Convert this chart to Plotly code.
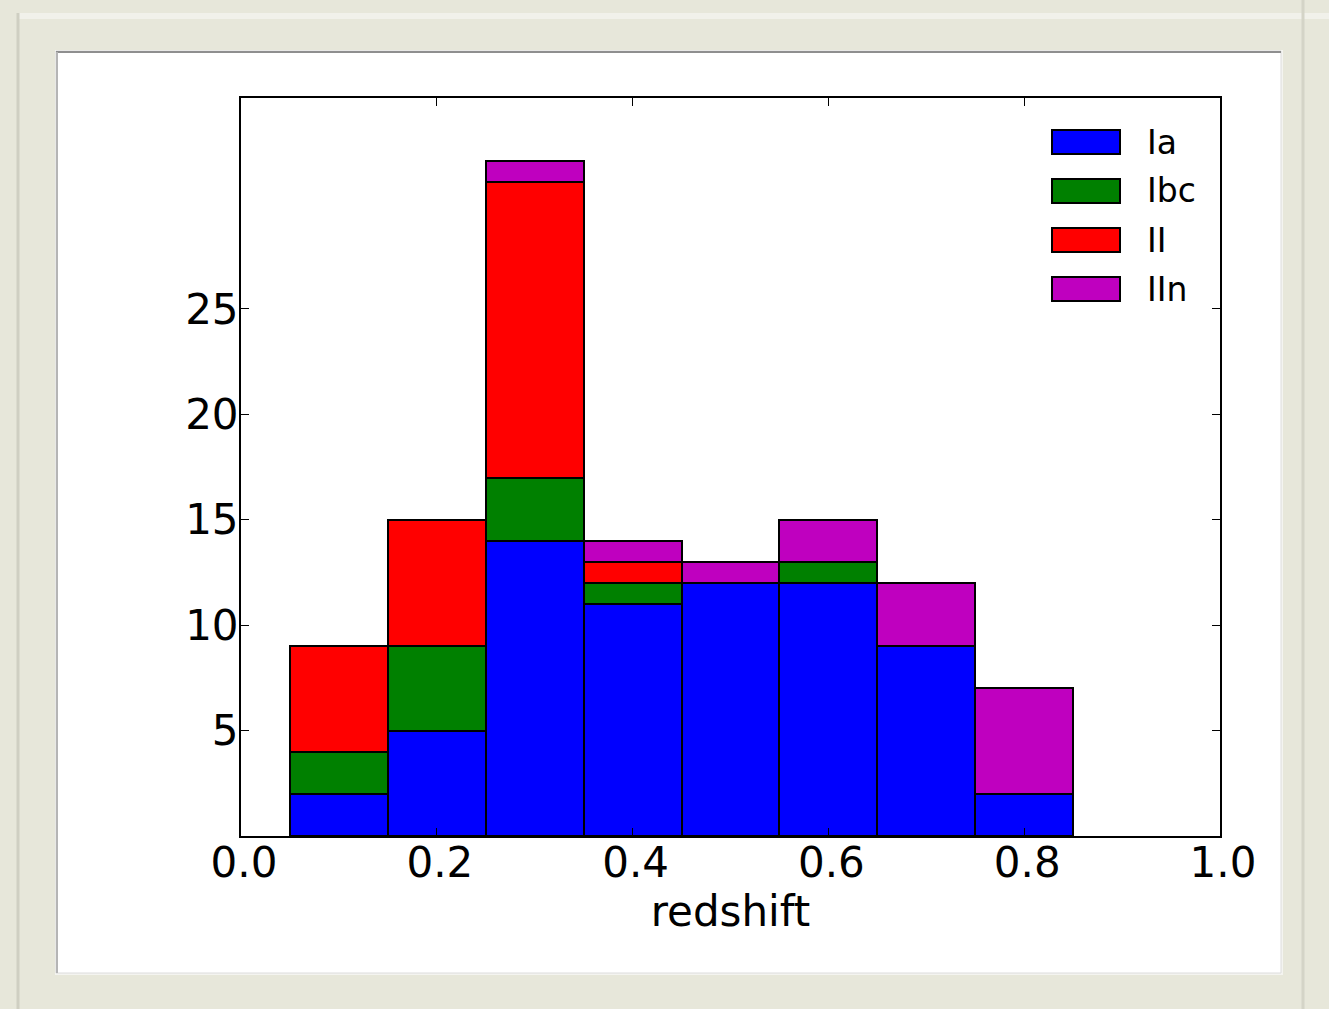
import plotly.graph_objects as go

# ---- data ----
bin_centers = [0.1, 0.2, 0.3, 0.4, 0.5, 0.6, 0.7, 0.8]
ia = [2, 5, 14, 11, 12, 12, 9, 2]
ibc = [2, 4, 3, 1, 0, 1, 0, 0]
ii = [5, 6, 14, 1, 0, 0, 0, 0]
iin = [0, 0, 1, 1, 1, 2, 3, 5]
series_names = ["Ia", "Ibc", "II", "IIn"]
series_colors = ["#0000ff", "#008000", "#ff0000", "#bf00bf"]
x_ticks = [0.0, 0.2, 0.4, 0.6, 0.8, 1.0]
x_tick_labels = ["0.0", "0.2", "0.4", "0.6", "0.8", "1.0"]
y_ticks = [5, 10, 15, 20, 25]
y_tick_labels = ["5", "10", "15", "20", "25"]

W, H = 1329, 1009
L, R, T, B = 241, 109, 98, 173
PW, PH = W - L - R, H - T - B

def px(x):
    return (x - L) / PW

def py(y):
    return 1 - (y - T) / PH

fig = go.Figure()
for name, vals, col in zip(series_names, [ia, ibc, ii, iin], series_colors):
    fig.add_trace(go.Bar(
        x=bin_centers, y=vals, name=name, width=0.1,
        marker=dict(color=col, line=dict(color="black", width=2)),
        showlegend=False,
    ))

shapes = []
# outer frame decorations
shapes.append(dict(type="rect", xref="paper", yref="paper", layer="below",
                   x0=px(18), x1=px(1329), y0=py(13), y1=py(19),
                   fillcolor="#f1f1ea", line=dict(width=0)))
shapes.append(dict(type="line", xref="paper", yref="paper", layer="below",
                   x0=px(18), x1=px(18), y0=py(13), y1=py(1009),
                   line=dict(color="#cfcfc2", width=3)))
shapes.append(dict(type="line", xref="paper", yref="paper", layer="below",
                   x0=px(1303), x1=px(1303), y0=py(0), y1=py(1009),
                   line=dict(color="#d4d4c7", width=3)))
# white panel with shadow
shapes.append(dict(type="rect", xref="paper", yref="paper", layer="below",
                   x0=px(55), x1=px(1283), y0=py(50), y1=py(975),
                   fillcolor="#f4f4f0", line=dict(width=0)))
shapes.append(dict(type="rect", xref="paper", yref="paper", layer="below",
                   x0=px(56), x1=px(1281), y0=py(51), y1=py(973),
                   fillcolor="#ffffff", line=dict(color="#dcdcdc", width=1)))
shapes.append(dict(type="line", xref="paper", yref="paper", layer="below",
                   x0=px(56), x1=px(1281), y0=py(52), y1=py(52),
                   line=dict(color="#8f8f8f", width=2)))
shapes.append(dict(type="line", xref="paper", yref="paper", layer="below",
                   x0=px(57), x1=px(57), y0=py(52), y1=py(973),
                   line=dict(color="#b5b5b5", width=2)))

# custom legend
annotations = []
leg_top = [130, 179, 228, 277]
for name, col, top in zip(series_names, series_colors, leg_top):
    shapes.append(dict(type="rect", xref="paper", yref="paper",
                       x0=px(1052), x1=px(1120), y0=py(top), y1=py(top + 24),
                       fillcolor=col, line=dict(color="black", width=2)))
    annotations.append(dict(xref="paper", yref="paper", x=px(1145), y=py(top + 12),
                            text=name, showarrow=False, xanchor="left", yanchor="middle",
                            font=dict(size=33, color="black", family="DejaVu Sans")))

fig.update_layout(
    width=W, height=H,
    margin=dict(l=L, r=R, t=T, b=B),
    paper_bgcolor="#e7e7da",
    plot_bgcolor="#ffffff",
    barmode="stack",
    bargap=0,
    shapes=shapes,
    annotations=annotations,
    font=dict(family="DejaVu Sans", color="black"),
)
fig.update_xaxes(
    range=[0, 1], tickvals=x_ticks, ticktext=x_tick_labels,
    ticks="inside", ticklen=8, tickwidth=1, tickcolor="black",
    showline=True, linecolor="black", linewidth=2, mirror="ticks",
    showgrid=False, zeroline=False,
    tickfont=dict(size=42, family="DejaVu Sans"),
    ticklabelstandoff=-11, ticklabelshift=3,
    title=dict(text="redshift", font=dict(size=42, family="DejaVu Sans"), standoff=0),
)
fig.update_yaxes(
    range=[0, 35], tickvals=y_ticks, ticktext=y_tick_labels,
    ticks="inside", ticklen=8, tickwidth=1, tickcolor="black",
    showline=True, linecolor="black", linewidth=2, mirror="ticks",
    showgrid=False, zeroline=False,
    tickfont=dict(size=42, family="DejaVu Sans"),
    ticklabelstandoff=-8,
)

fig.write_html("out.html")
